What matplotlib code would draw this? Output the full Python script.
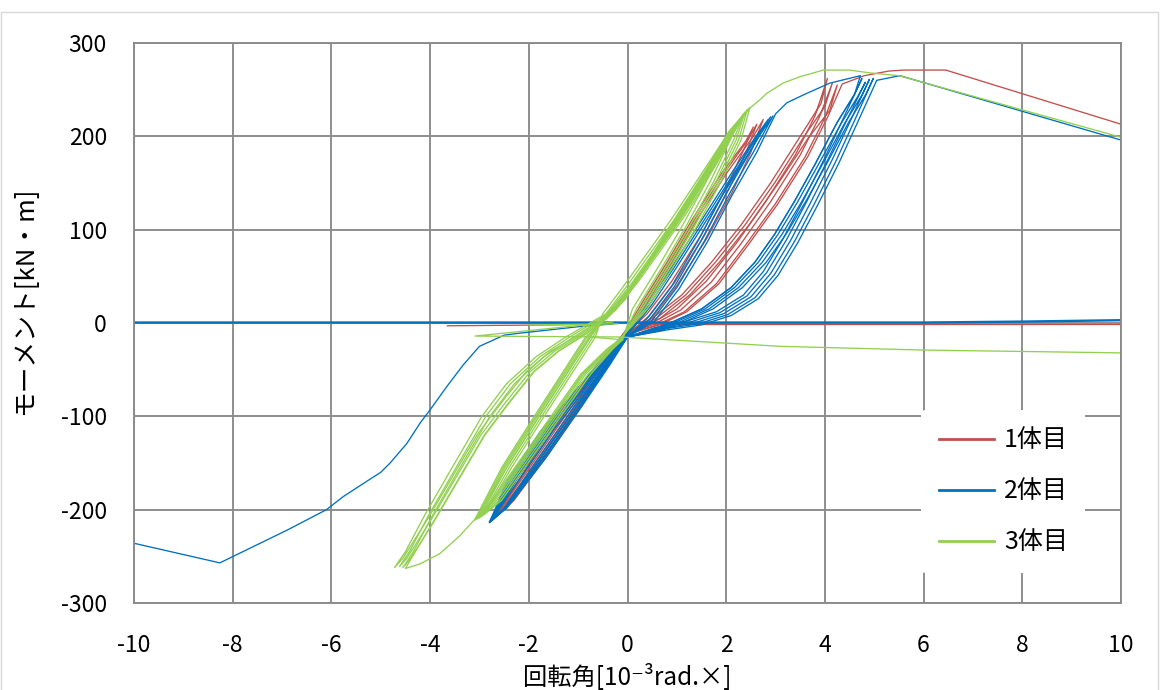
import matplotlib
matplotlib.use("Agg")
import matplotlib.pyplot as plt
from matplotlib.lines import Line2D
from matplotlib.patches import Rectangle

plt.rcParams['font.family'] = ['Noto Sans CJK JP', 'DejaVu Sans']
plt.rcParams['axes.unicode_minus'] = False

# ---------------- data (rotation angle [1e-3 rad], moment [kN*m]) ----------------
series_labels = ["1体目", "2体目", "3体目"]
x_ticks = [-10, -8, -6, -4, -2, 0, 2, 4, 6, 8, 10]
y_ticks = [-300, -200, -100, 0, 100, 200, 300]

# 1体目 (red)
red_s1_x = [0.0, 0.4, 0.9, 1.5, 2.0, 2.35, 2.55, 2.4, 1.9, 1.3, 0.8, 0.3, 0.0, -0.45, -1.35, -2.1, -2.68, -2.3, -1.6, -0.95, -0.4, 0.0]
red_s1_y = [-10, 10, 45, 95, 145, 185, 210, 195, 160, 110, 65, 22, -5, -40, -110, -168, -208, -190, -140, -90, -45, -12]
red_s2_x = [0.0, 0.45, 0.95, 1.55, 2.05, 2.42, 2.62, 2.45, 1.95, 1.35, 0.85, 0.35, 0.0, -0.5, -1.45, -2.18, -2.72, -2.35, -1.65, -1.0, -0.42, 0.0]
red_s2_y = [-12, 8, 43, 93, 143, 185, 213, 197, 160, 110, 65, 22, -6, -40, -110, -168, -210, -192, -140, -90, -45, -12]
red_s3_x = [0.0, 0.5, 1.0, 1.6, 2.12, 2.5, 2.75, 2.55, 2.0, 1.4, 0.9, 0.4, 0.02, -0.55, -1.55, -2.25, -2.75, -2.4, -1.7, -1.05, -0.45, 0.0]
red_s3_y = [-12, 6, 40, 90, 140, 183, 218, 200, 160, 110, 65, 22, -6, -40, -110, -168, -212, -194, -140, -90, -45, -12]
red_L1_x = [0.0, 0.5, 1.0, 1.6, 2.2, 2.8, 3.4, 3.8, 4.05, 3.92, 3.5, 2.9, 2.3, 1.7, 1.1, 0.5, 0.1, -0.5, -1.4, -2.15, -2.72, -2.32, -1.58, -0.92, -0.38, 0.0]
red_L1_y = [-12, 0, 15, 45, 85, 130, 180, 222, 262, 235, 200, 150, 105, 65, 30, 5, -8, -42, -110, -168, -210, -190, -138, -88, -44, -12]
red_L2_x = [0.0, 0.55, 1.08, 1.7, 2.3, 2.9, 3.5, 3.9, 4.15, 4.0, 3.58, 2.98, 2.38, 1.78, 1.18, 0.58, 0.12, -0.52, -1.5, -2.2, -2.73, -2.37, -1.62, -0.98, -0.4, 0.0]
red_L2_y = [-12, -1, 14, 44, 85, 130, 180, 222, 257, 232, 200, 150, 105, 65, 30, 5, -8, -42, -110, -168, -210, -192, -138, -88, -44, -12]
red_L3_x = [0.0, 0.6, 1.15, 1.8, 2.4, 3.0, 3.6, 4.0, 4.25, 4.1, 3.66, 3.06, 2.46, 1.86, 1.26, 0.66, 0.15, -0.58, -1.6, -2.3, -2.74, -2.42, -1.68, -1.02, -0.44, 0.0]
red_L3_y = [-12, -2, 12, 42, 84, 128, 178, 220, 255, 228, 198, 150, 105, 65, 30, 5, -8, -42, -110, -168, -211, -194, -138, -88, -44, -12]
red_env_x = [0.0, 0.65, 1.2, 1.85, 2.45, 3.05, 3.65, 4.05, 4.35, 4.8, 5.3, 5.6, 6.45, 10.0]
red_env_y = [-12, -2, 12, 42, 84, 128, 178, 220, 256, 265, 270, 271, 271, 213]
red_flat_x = [-3.65, -1.5, -0.3]
red_flat_y = [-3, -2, -1]
red_flat_r_x = [0.3, 10.0]
red_flat_r_y = [-1, -1]

# 2体目 (blue)
blue_s1_x = [0.0, 0.4, 0.9, 1.45, 1.95, 2.45, 2.85, 2.6, 2.1, 1.5, 0.9, 0.4, 0.0, -0.55, -1.5, -2.2, -2.76, -2.45, -1.75, -1.05, -0.45, 0.0]
blue_s1_y = [-15, 5, 40, 90, 140, 185, 218, 200, 160, 110, 60, 20, -10, -50, -115, -168, -212, -198, -148, -95, -48, -15]
blue_s2_x = [0.0, 0.45, 0.95, 1.5, 2.0, 2.5, 2.9, 2.65, 2.15, 1.55, 0.95, 0.45, 0.03, -0.58, -1.58, -2.28, -2.78, -2.5, -1.8, -1.1, -0.48, 0.0]
blue_s2_y = [-15, 4, 39, 89, 139, 185, 221, 202, 160, 110, 60, 20, -10, -50, -115, -168, -213, -200, -148, -95, -48, -15]
blue_s3_x = [0.0, 0.5, 1.0, 1.56, 2.06, 2.56, 2.95, 2.7, 2.2, 1.6, 1.0, 0.5, 0.05, -0.62, -1.66, -2.36, -2.8, -2.52, -1.85, -1.15, -0.5, 0.0]
blue_s3_y = [-15, 3, 38, 88, 138, 184, 222, 203, 160, 110, 60, 20, -10, -50, -115, -168, -214, -200, -148, -95, -48, -15]
blue_env_x = [0.0, 0.55, 1.05, 1.62, 2.12, 2.62, 3.0, 3.23, 3.63, 4.1, 4.72, 4.6, 4.25, 3.8, 3.38, 2.98, 2.58, 2.1, 1.5, 0.95, 0.45, 0.0]
blue_env_y = [-15, 2, 37, 87, 137, 183, 224, 236, 246, 257, 265, 245, 215, 170, 130, 95, 65, 38, 15, 2, -8, -15]
blue_L1_x = [0.0, 0.55, 1.2, 1.8, 2.35, 2.75, 3.15, 3.55, 3.98, 4.38, 4.75, 4.6, 4.25, 3.8, 3.38, 2.98, 2.58, 2.1, 1.5, 0.95, 0.45, 0.0, -0.6, -1.55, -2.25, -2.78, -2.47, -1.7, -1.0, -0.4, 0.0]
blue_L1_y = [-15, -5, 2, 12, 30, 55, 90, 130, 175, 220, 262, 245, 215, 170, 130, 95, 65, 38, 15, 2, -8, -15, -50, -115, -168, -213, -198, -145, -92, -45, -15]
blue_L2_x = [0.0, 0.62, 1.27, 1.87, 2.42, 2.82, 3.22, 3.62, 4.05, 4.45, 4.82, 4.67, 4.32, 3.87, 3.45, 3.05, 2.65, 2.17, 1.57, 1.02, 0.52, 0.0, -0.65, -1.62, -2.32, -2.8, -2.5, -1.76, -1.06, -0.44, 0.0]
blue_L2_y = [-15, -5, 1, 11, 29, 54, 89, 129, 174, 218, 258, 243, 213, 170, 130, 95, 65, 38, 15, 2, -8, -15, -50, -115, -168, -213, -198, -145, -92, -45, -15]
blue_L3_x = [0.0, 0.7, 1.35, 1.95, 2.5, 2.9, 3.3, 3.7, 4.13, 4.53, 4.9, 4.75, 4.4, 3.95, 3.53, 3.13, 2.73, 2.25, 1.65, 1.1, 0.6, 0.0, -0.7, -1.7, -2.4, -2.77, -2.44, -1.66, -0.96, -0.36, 0.0]
blue_L3_y = [-15, -6, 0, 10, 28, 53, 88, 128, 173, 218, 261, 244, 214, 170, 130, 95, 65, 38, 15, 2, -8, -15, -50, -115, -168, -212, -198, -145, -92, -45, -15]
blue_L4_x = [0.0, 0.78, 1.43, 2.03, 2.58, 2.98, 3.38, 3.78, 4.21, 4.61, 4.98, 4.83, 4.48, 4.03, 3.61, 3.21, 2.81, 2.33, 1.73, 1.18, 0.68, 0.0, -0.68, -1.75, -2.45, -2.79, -2.48, -1.72, -1.0, -0.38, 0.0]
blue_L4_y = [-15, -6, -1, 9, 27, 52, 87, 127, 172, 218, 262, 245, 215, 170, 130, 95, 65, 38, 15, 2, -8, -15, -50, -115, -170, -213, -198, -145, -92, -45, -15]
blue_L5_x = [0.0, 0.85, 1.5, 2.1, 2.65, 3.05, 3.45, 3.85, 4.28, 4.68, 5.05, 5.52, 10.0]
blue_L5_y = [-15, -7, -2, 8, 26, 51, 86, 126, 171, 217, 260, 265, 196]
blue_tail_x = [-0.3, -1.0, -2.2, -2.5, -3.0, -3.33, -3.66, -4.0, -4.2, -4.47, -4.81, -5.0, -5.15, -5.76, -6.1, -6.9, -7.6, -8.26, -10.0]
blue_tail_y = [-1, -4, -11, -13, -25, -45, -68, -93, -107, -129, -150, -160, -165, -186, -200, -222, -240, -257, -236]
blue_flat_x = [-10.0, 6.0, 8.0, 10.0]
blue_flat_y = [0.5, 0.5, 1.5, 3.0]

# 3体目 (green)
green_s1_x = [-0.1, 0.1, 0.6, 1.1, 1.6, 2.0, 2.22, 2.0, 1.5, 0.9, 0.4, -0.1, -0.5, -0.65, -1.2, -1.75, -2.35, -2.9, -2.55, -1.95, -1.35, -0.75, -0.3, -0.1]
green_s1_y = [-18, 15, 58, 103, 152, 196, 212, 200, 160, 112, 75, 38, 10, -15, -60, -105, -155, -205, -190, -145, -100, -55, -28, -18]
green_s2_x = [-0.12, 0.18, 0.68, 1.18, 1.68, 2.08, 2.28, 2.08, 1.58, 0.98, 0.48, -0.02, -0.42, -0.7, -1.25, -1.8, -2.4, -2.95, -2.6, -2.0, -1.4, -0.8, -0.32, -0.12]
green_s2_y = [-18, 15, 58, 103, 152, 196, 218, 204, 162, 113, 76, 39, 11, -15, -60, -105, -155, -207, -190, -145, -100, -55, -28, -18]
green_s3_x = [-0.14, 0.25, 0.75, 1.25, 1.75, 2.15, 2.34, 2.14, 1.65, 1.05, 0.55, 0.05, -0.38, -0.75, -1.3, -1.85, -2.45, -3.0, -2.65, -2.05, -1.45, -0.85, -0.35, -0.14]
green_s3_y = [-18, 15, 58, 103, 152, 196, 222, 207, 164, 114, 77, 40, 12, -15, -60, -105, -155, -209, -190, -145, -100, -55, -28, -18]
green_s4_x = [-0.15, 0.3, 0.8, 1.3, 1.8, 2.2, 2.38, 2.18, 1.7, 1.1, 0.6, 0.1, -0.35, -0.78, -1.34, -1.89, -2.49, -3.04, -2.69, -2.09, -1.49, -0.89, -0.38, -0.15]
green_s4_y = [-18, 15, 58, 103, 152, 196, 226, 210, 166, 116, 78, 41, 12, -15, -60, -105, -155, -210, -190, -145, -100, -55, -28, -18]
green_s5_x = [-0.16, 0.35, 0.85, 1.35, 1.85, 2.25, 2.43, 2.22, 1.75, 1.15, 0.65, 0.15, -0.3, -0.82, -1.37, -1.92, -2.52, -3.08, -2.72, -2.12, -1.52, -0.92, -0.4, -0.16]
green_s5_y = [-18, 15, 58, 103, 152, 196, 229, 212, 168, 117, 79, 42, 13, -15, -60, -105, -155, -211, -190, -145, -100, -55, -28, -18]
green_s6_x = [-0.17, 0.4, 0.9, 1.4, 1.9, 2.3, 2.48, 2.26, 1.8, 1.2, 0.7, 0.2, -0.25, -0.85, -1.4, -1.95, -2.55, -3.1, -2.75, -2.15, -1.55, -0.95, -0.42, -0.17]
green_s6_y = [-18, 15, 58, 103, 152, 196, 231, 214, 170, 118, 80, 43, 14, -15, -60, -105, -155, -211, -190, -145, -100, -55, -28, -18]
green_we_x = [-0.1, -0.75, -1.3, -1.85, -2.45, -3.0, -3.4, -3.8, -4.2, -4.5, -4.38, -3.9, -3.4, -2.9, -2.4, -1.9, -1.4, -0.85, -0.42, -0.05, 0.5, 1.1, 1.7, 2.15, 2.35]
green_we_y = [-18, -15, -60, -105, -155, -205, -228, -247, -258, -263, -252, -210, -165, -120, -85, -52, -30, -12, 5, 25, 70, 120, 170, 210, 224]
green_w1_x = [2.3, 1.75, 1.15, 0.65, 0.15, -0.3, -0.76, -1.25, -1.85, -2.45, -2.95, -3.5, -4.1, -4.5, -4.72, -4.55, -4.05, -3.55, -3.05, -2.55, -2.05, -1.55, -0.95, -0.5, -0.1, 0.4, 1.0, 1.6, 2.05, 2.3]
green_w1_y = [220, 172, 122, 83, 45, 14, 0, -15, -36, -65, -100, -150, -205, -245, -262, -252, -210, -165, -120, -85, -52, -30, -12, 5, 25, 65, 115, 165, 205, 220]
green_w2_x = [2.32, 1.77, 1.17, 0.67, 0.17, -0.27, -0.7, -1.17, -1.77, -2.37, -2.87, -3.42, -4.02, -4.42, -4.62, -4.47, -3.97, -3.47, -2.97, -2.47, -1.97, -1.47, -0.9, -0.46, -0.08, 0.42, 1.02, 1.62, 2.07, 2.32]
green_w2_y = [221, 172, 122, 83, 45, 14, 0, -15, -36, -65, -100, -150, -205, -245, -261, -252, -210, -165, -120, -85, -52, -30, -12, 5, 25, 65, 115, 165, 205, 221]
green_w3_x = [2.34, 1.79, 1.19, 0.69, 0.19, -0.24, -0.64, -1.09, -1.69, -2.29, -2.79, -3.34, -3.94, -4.34, -4.55, -4.39, -3.89, -3.39, -2.89, -2.39, -1.89, -1.39, -0.85, -0.42, -0.06, 0.44, 1.04, 1.64, 2.09, 2.34]
green_w3_y = [222, 172, 122, 83, 45, 14, 0, -15, -36, -65, -100, -150, -205, -245, -262, -252, -210, -165, -120, -85, -52, -30, -12, 5, 25, 65, 115, 165, 205, 222]
green_env_x = [2.45, 2.68, 2.82, 3.15, 3.5, 3.97, 4.5, 4.91, 5.5, 10.0]
green_env_y = [229, 239, 246, 257, 264, 271, 271, 268, 265, 199]
green_tail_x = [-0.3, -3.09, -0.15, 1.5, 3.1, 6.0, 10.0]
green_tail_y = [1, -14, -15, -20, -25, -29, -32]
green_flat_x = [-2.0, -0.2]
green_flat_y = [-2, -1]

colors = ["#C0504D", "#0070C0", "#92D050"]

red_segments = [(red_flat_x, red_flat_y), (red_flat_r_x, red_flat_r_y),
                (red_s1_x, red_s1_y), (red_s2_x, red_s2_y), (red_s3_x, red_s3_y),
                (red_L1_x, red_L1_y), (red_L2_x, red_L2_y), (red_L3_x, red_L3_y),
                (red_env_x, red_env_y)]
blue_segments = [(blue_tail_x, blue_tail_y),
                 (blue_s1_x, blue_s1_y), (blue_s2_x, blue_s2_y), (blue_s3_x, blue_s3_y),
                 (blue_env_x, blue_env_y), (blue_L1_x, blue_L1_y), (blue_L2_x, blue_L2_y),
                 (blue_L3_x, blue_L3_y), (blue_L4_x, blue_L4_y), (blue_L5_x, blue_L5_y)]
green_segments = [(green_tail_x, green_tail_y), (green_flat_x, green_flat_y),
                  (green_s1_x, green_s1_y), (green_s2_x, green_s2_y), (green_s3_x, green_s3_y),
                  (green_s4_x, green_s4_y), (green_s5_x, green_s5_y), (green_s6_x, green_s6_y),
                  (green_we_x, green_we_y), (green_w1_x, green_w1_y), (green_w2_x, green_w2_y),
                  (green_w3_x, green_w3_y), (green_env_x, green_env_y)]

# ---------------- figure ----------------
fig = plt.figure(figsize=(11.6, 6.9), dpi=100)
fig.patches.append(Rectangle((0.001, -0.01), 0.997, 1 - 12 / 690 + 0.01, transform=fig.transFigure,
                             fill=False, edgecolor="#D9D9D9", linewidth=1.0))
ax = fig.add_axes([134 / 1160, 1 - 603 / 690, (1121 - 134) / 1160, (603 - 43) / 690])

lw = 0.95
for sx, sy in red_segments:
    ax.plot(sx, sy, color=colors[0], lw=lw, solid_joinstyle="round")
for sx, sy in blue_segments:
    ax.plot(sx, sy, color=colors[1], lw=lw, solid_joinstyle="round")
ax.plot(blue_flat_x, blue_flat_y, color=colors[1], lw=1.7)
for sx, sy in green_segments:
    ax.plot(sx, sy, color=colors[2], lw=lw, solid_joinstyle="round")

ax.set_xlim(-10, 10)
ax.set_ylim(-300, 300)
ax.set_xticks(x_ticks)
ax.set_yticks(y_ticks)
ax.set_xticklabels([str(v) for v in x_ticks])
ax.set_yticklabels([str(v) for v in y_ticks])
ax.grid(True, color="#8A8A8A", linewidth=1.35)
ax.set_axisbelow(True)
for sp in ax.spines.values():
    sp.set_color("#8A8A8A")
    sp.set_linewidth(1.35)
ax.tick_params(length=0, labelsize=16.5, colors="#000000")
ax.tick_params(axis="x", pad=22)
ax.tick_params(axis="y", pad=19.5)

fig.text(25 / 1160, 1 - 301 / 690, "モーメント[kN・m]", rotation=90, ha="center", va="center", fontsize=18.5)
fig.text(627 / 1160, 1 - 677 / 690, "回転角[10⁻³rad.×]", ha="center", va="center", fontsize=17.5)

handles = [Line2D([0], [0], color=c, lw=2.0) for c in colors]
leg = ax.legend(handles, series_labels, loc="upper left", bbox_to_anchor=(0.785, 0.367),
                frameon=True, fontsize=18, handlelength=2.2, handletextpad=0.4,
                labelspacing=1.0, borderpad=0.7)
leg.get_frame().set_edgecolor("none")
leg.get_frame().set_facecolor("white")
leg.get_frame().set_alpha(1.0)

fig.savefig("out.png", dpi=100)
